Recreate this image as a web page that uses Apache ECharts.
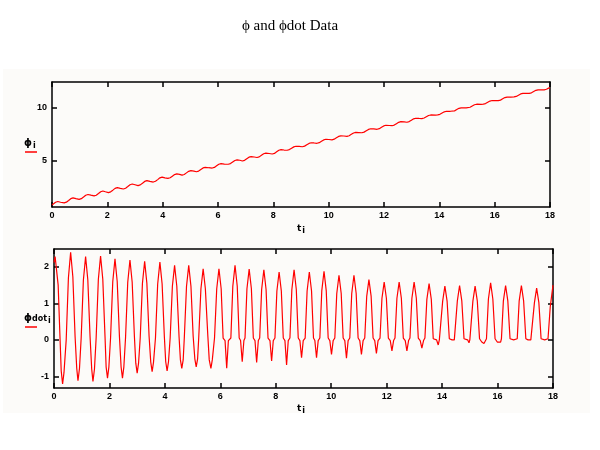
<!DOCTYPE html>
<html><head><meta charset="utf-8">
<script src="https://cdn.jsdelivr.net/npm/echarts@6/dist/echarts.min.js"></script>
<style>html,body{margin:0;padding:0;background:#fff}#c{width:600px;height:450px}</style>
</head><body><div id="c"></div>
<script>
// ---- data ----
const titleText = '\u03d5 and \u03d5dot Data';
const tRange = [0, 18];
const tInterval = 2;
const phiRange = [0.6, 12.47];
const phiTicks = [5, 10];
const phidotRange = [-1.32, 2.49];
const phidotTicks = [-1, 0, 1, 2];

// phi_i versus t_i  [t, phi]
const phi = [
[0,0.80],[0.05,0.88],[0.13,1.05],[0.21,1.12],[0.31,1.05],
[0.44,0.99],[0.52,1.06],[0.60,1.22],[0.68,1.39],[0.76,1.46],[0.865,1.39],
[0.98,1.32],[1.06,1.39],[1.14,1.55],[1.22,1.72],[1.30,1.79],[1.405,1.72],
[1.52,1.65],[1.60,1.72],[1.68,1.88],[1.76,2.05],[1.84,2.12],[1.93,2.05],
[2.04,1.97],[2.12,2.04],[2.20,2.20],[2.28,2.37],[2.36,2.44],[2.47,2.37],
[2.58,2.31],[2.66,2.38],[2.74,2.54],[2.82,2.71],[2.90,2.78],[3.00,2.71],
[3.11,2.63],[3.19,2.70],[3.27,2.86],[3.35,3.03],[3.43,3.10],[3.54,3.03],
[3.66,2.97],[3.74,3.04],[3.82,3.20],[3.90,3.37],[3.98,3.44],[4.08,3.37],
[4.19,3.32],[4.27,3.38],[4.35,3.53],[4.43,3.68],[4.51,3.74],[4.61,3.70],
[4.70,3.63],[4.78,3.69],[4.86,3.84],[4.94,3.99],[5.02,4.05],[5.13,4.01],
[5.22,3.95],[5.30,4.01],[5.38,4.16],[5.46,4.31],[5.54,4.37],[5.66,4.33],
[5.79,4.30],[5.87,4.36],[5.95,4.51],[6.03,4.66],[6.11,4.72],[6.23,4.68],
[6.37,4.66],[6.45,4.72],[6.53,4.87],[6.61,5.02],[6.69,5.08],[6.79,5.04],
[6.88,4.97],[6.96,5.03],[7.04,5.18],[7.12,5.33],[7.20,5.39],[7.31,5.35],
[7.41,5.30],[7.49,5.36],[7.57,5.51],[7.65,5.66],[7.73,5.72],[7.85,5.68],
[7.96,5.63],[8.04,5.69],[8.12,5.84],[8.20,5.99],[8.28,6.05],[8.39,6.01],
[8.50,5.99],[8.58,6.05],[8.66,6.18],[8.74,6.31],[8.82,6.37],[8.93,6.35],
[9.05,6.32],[9.13,6.38],[9.21,6.51],[9.29,6.64],[9.37,6.70],[9.47,6.68],
[9.58,6.65],[9.66,6.71],[9.74,6.84],[9.82,6.97],[9.90,7.03],[10.01,7.01],
[10.12,6.98],[10.20,7.04],[10.28,7.17],[10.36,7.30],[10.44,7.36],[10.55,7.34],
[10.66,7.31],[10.74,7.37],[10.82,7.50],[10.90,7.63],[10.98,7.69],[11.09,7.67],
[11.20,7.65],[11.28,7.71],[11.36,7.84],[11.44,7.97],[11.52,8.03],[11.63,8.01],
[11.75,7.98],[11.83,8.04],[11.91,8.17],[11.99,8.30],[12.07,8.36],[12.19,8.34],
[12.29,8.32],[12.37,8.38],[12.45,8.51],[12.53,8.64],[12.61,8.70],[12.73,8.68],
[12.83,8.65],[12.91,8.71],[12.99,8.84],[13.07,8.97],[13.15,9.03],[13.27,9.01],
[13.37,9.00],[13.45,9.05],[13.53,9.17],[13.61,9.29],[13.69,9.34],[13.86,9.33],
[13.94,9.35],[14.02,9.40],[14.10,9.52],[14.18,9.64],[14.26,9.69],[14.40,9.69],
[14.47,9.68],[14.55,9.73],[14.63,9.85],[14.71,9.97],[14.79,10.02],[14.97,10.01],
[15.03,10.02],[15.11,10.07],[15.19,10.19],[15.27,10.31],[15.35,10.36],[15.51,10.35],
[15.59,10.37],[15.67,10.42],[15.75,10.54],[15.83,10.66],[15.91,10.71],[16.05,10.70],
[16.13,10.70],[16.21,10.75],[16.29,10.87],[16.37,10.99],[16.45,11.04],[16.58,11.04],
[16.70,11.05],[16.78,11.10],[16.86,11.22],[16.94,11.34],[17.02,11.39],[17.15,11.39],
[17.25,11.39],[17.33,11.44],[17.41,11.56],[17.49,11.68],[17.57,11.73],[17.70,11.73],
[17.79,11.73],[17.87,11.78],[17.95,11.89],[18.0,11.94]
];

// phidot_i versus t_i  [t, phidot]
const phidot = [
[0,2.12],[0.04,2.28],[0.09,2.26],[0.15,1.5],[0.21,0.2],[0.26,-0.85],[0.31,-1.21],[0.36,-0.9],[0.44,0],[0.52,1.7],
[0.60,2.40],[0.68,1.73],[0.76,0.1],[0.82,-0.78],[0.865,-1.12],[0.92,-0.78],[0.98,0.05],[1.06,1.64],
[1.14,2.28],[1.22,1.64],[1.30,0.1],[1.36,-0.8],[1.405,-1.14],[1.46,-0.8],[1.52,0.05],[1.60,1.66],
[1.68,2.30],[1.76,1.66],[1.84,0.1],[1.88,-0.74],[1.93,-1.05],[1.98,-0.74],[2.04,0.05],[2.12,1.6],
[2.20,2.22],[2.28,1.6],[2.36,0.1],[2.42,-0.74],[2.47,-1.05],[2.52,-0.74],[2.58,0.05],[2.66,1.58],
[2.74,2.19],[2.82,1.58],[2.90,0.1],[2.95,-0.64],[3.00,-0.91],[3.05,-0.64],[3.11,0.05],[3.19,1.55],
[3.27,2.15],[3.35,1.55],[3.43,0.1],[3.49,-0.61],[3.54,-0.87],[3.59,-0.61],[3.66,0.05],[3.74,1.53],
[3.82,2.13],[3.90,1.53],[3.98,0.1],[4.03,-0.6],[4.08,-0.85],[4.13,-0.6],[4.19,0.05],[4.27,1.47],
[4.35,2.04],[4.43,1.47],[4.51,0.1],[4.56,-0.55],[4.61,-0.78],[4.66,-0.55],[4.70,0.05],[4.78,1.47],
[4.86,2.04],[4.94,1.47],[5.02,0.1],[5.08,-0.52],[5.13,-0.74],[5.18,-0.52],[5.22,0.05],[5.30,1.4],
[5.38,1.95],[5.46,1.4],[5.55,0.1],[5.60,-0.55],[5.66,-0.78],[5.71,-0.55],[5.79,0.05],[5.87,1.4],
[5.95,1.95],[6.03,1.4],[6.10,0.05],[6.17,-0.02],[6.23,-0.78],[6.29,-0.02],[6.38,0.05],[6.45,1.47],
[6.53,2.04],[6.61,1.47],[6.68,0.05],[6.73,-0.02],[6.79,-0.6],[6.85,-0.02],[6.89,0.05],[6.96,1.4],
[7.04,1.94],[7.12,1.4],[7.19,0.05],[7.25,-0.02],[7.31,-0.62],[7.37,-0.02],[7.42,0.05],[7.49,1.38],
[7.57,1.92],[7.65,1.38],[7.72,0.05],[7.79,-0.02],[7.85,-0.58],[7.91,-0.02],[7.97,0.05],[8.04,1.34],
[8.12,1.86],[8.20,1.34],[8.27,0.05],[8.33,-0.02],[8.39,-0.69],[8.45,-0.02],[8.51,0.05],[8.58,1.38],
[8.66,1.92],[8.74,1.38],[8.81,0.05],[8.87,-0.02],[8.93,-0.49],[8.99,-0.02],[9.06,0.05],[9.13,1.34],
[9.21,1.86],[9.29,1.34],[9.36,0.05],[9.41,-0.02],[9.47,-0.49],[9.53,-0.02],[9.59,0.05],[9.66,1.35],
[9.74,1.88],[9.82,1.35],[9.89,0.05],[9.95,-0.02],[10.01,-0.4],[10.07,-0.02],[10.13,0.05],[10.20,1.27],
[10.28,1.77],[10.36,1.27],[10.43,0.05],[10.49,-0.02],[10.55,-0.5],[10.61,-0.02],[10.67,0.05],[10.74,1.27],
[10.82,1.77],[10.90,1.27],[10.97,0.05],[11.03,-0.02],[11.09,-0.4],[11.15,-0.02],[11.21,0.05],[11.28,1.19],
[11.36,1.65],[11.44,1.19],[11.51,0.05],[11.57,-0.02],[11.63,-0.37],[11.69,-0.02],[11.76,0.05],[11.83,1.14],
[11.91,1.58],[11.99,1.14],[12.06,0.05],[12.13,-0.02],[12.19,-0.3],[12.25,-0.02],[12.30,0.05],[12.37,1.14],
[12.45,1.58],[12.53,1.14],[12.60,0.05],[12.67,-0.02],[12.73,-0.3],[12.79,-0.02],[12.84,0.05],[12.91,1.14],
[12.99,1.58],[13.07,1.14],[13.14,0.05],[13.21,-0.02],[13.27,-0.23],[13.33,-0.02],[13.38,0.05],[13.45,1.11],
[13.53,1.54],[13.61,1.11],[13.68,0.03],[13.80,0],[13.86,-0.14],[13.90,0],[13.95,0.03],[14.02,1.06],
[14.10,1.47],[14.18,1.06],[14.26,0.03],[14.36,0],[14.40,0],[14.44,0],[14.48,0.03],[14.55,1.07],
[14.63,1.49],[14.71,1.07],[14.79,0.03],[14.92,0],[14.97,-0.08],[15.00,0],[15.04,0.03],[15.11,1.06],
[15.19,1.47],[15.27,1.06],[15.35,0.03],[15.43,-0.06],[15.51,-0.1],[15.57,-0.06],[15.60,0.03],[15.67,1.12],
[15.75,1.56],[15.83,1.12],[15.91,0.03],[15.99,-0.06],[16.05,-0.1],[16.11,-0.06],[16.14,0.03],[16.21,1.07],
[16.29,1.49],[16.37,1.07],[16.45,0.03],[16.52,0],[16.58,0],[16.64,0],[16.71,0.03],[16.78,1.07],
[16.86,1.49],[16.94,1.07],[17.02,0.03],[17.10,0],[17.15,0],[17.20,0],[17.26,0.03],[17.33,1.02],
[17.41,1.42],[17.49,1.02],[17.57,0.03],[17.64,0],[17.70,0],[17.76,0],[17.82,0.03],[17.90,0.9],[18.0,1.5]
];

// ---- chart ----
const chart = echarts.init(document.getElementById('c'), null, {renderer: 'canvas'});
const black = '#000';
const lineW = 1.5;
const labelFont = {color: black, fontSize: 9, fontWeight: 'bold', fontFamily: 'Liberation Sans, Arial, sans-serif'};

function xAx(grid, pos, showLabel) {
  return {
    type: 'value', gridIndex: grid, position: pos, min: tRange[0], max: tRange[1], interval: tInterval,
    axisLine: {show: true, onZero: false, lineStyle: {color: black, width: lineW}},
    axisTick: {show: true, inside: true, length: 5, lineStyle: {color: black, width: lineW}},
    axisLabel: Object.assign({show: showLabel, margin: 4}, labelFont),
    splitLine: {show: false}
  };
}
function yAx(grid, pos, range, ticks, showLabel) {
  return {
    type: 'value', gridIndex: grid, position: pos, min: range[0], max: range[1],
    axisLine: {show: true, onZero: false, lineStyle: {color: black, width: lineW}},
    axisTick: {show: true, inside: true, length: 5, customValues: ticks, lineStyle: {color: black, width: lineW}},
    axisLabel: Object.assign({show: showLabel, margin: 5, customValues: ticks}, labelFont),
    splitLine: {show: false}
  };
}

const richLab = {
  a: {fontSize: 10, fontWeight: 'bold', fontFamily: 'DejaVu Sans, sans-serif', color: black},
  b: {fontSize: 8, fontWeight: 'bold', fontFamily: 'DejaVu Sans, sans-serif', color: black, padding: [5, 0, 0, 1]}
};

chart.setOption({
  animation: false,
  backgroundColor: '#ffffff',
  grid: [
    {left: 52, top: 82, right: 50, height: 125, containLabel: false},
    {left: 54, top: 249, right: 47, height: 139, containLabel: false}
  ],
  xAxis: [xAx(0, 'bottom', true), xAx(0, 'top', false), xAx(1, 'bottom', true), xAx(1, 'top', false)],
  yAxis: [
    yAx(0, 'left', phiRange, phiTicks, true), yAx(0, 'right', phiRange, phiTicks, false),
    yAx(1, 'left', phidotRange, phidotTicks, true), yAx(1, 'right', phidotRange, phidotTicks, false)
  ],
  series: [
    {type: 'line', name: 'phi', xAxisIndex: 0, yAxisIndex: 0, data: phi, showSymbol: false, symbol: 'none',
     lineStyle: {color: '#ff0000', width: 1.2}, itemStyle: {color: '#ff0000'}, z: 5},
    {type: 'line', name: 'phidot', xAxisIndex: 2, yAxisIndex: 2, data: phidot, showSymbol: false, symbol: 'none',
     lineStyle: {color: '#ff0000', width: 1.2}, itemStyle: {color: '#ff0000'}, z: 5}
  ],
  graphic: [
    {type: 'rect', z: -100, silent: true, shape: {x: 3, y: 69, width: 587, height: 344}, style: {fill: '#fcfbf9'}},
    {type: 'text', x: 290, y: 26, silent: true,
     style: {text: titleText, fill: black, font: '15px "Liberation Serif", "DejaVu Serif", serif', textAlign: 'center', textVerticalAlign: 'middle'}},
    {type: 'text', x: 24, y: 137, silent: true,
     style: {text: '{a|\u03d5}{b|i}', rich: richLab, fill: black}},
    {type: 'line', silent: true, shape: {x1: 25, y1: 152, x2: 37, y2: 152}, style: {stroke: '#ff0000', lineWidth: 1.5}},
    {type: 'text', x: 24, y: 312, silent: true,
     style: {text: '{a|\u03d5}{c|dot}{b|i}', rich: Object.assign({c: {fontSize: 8, fontWeight: 'bold', fontFamily: 'DejaVu Sans, sans-serif', color: black}}, richLab), fill: black}},
    {type: 'line', silent: true, shape: {x1: 25, y1: 327, x2: 37, y2: 327}, style: {stroke: '#ff0000', lineWidth: 1.5}},
    {type: 'text', x: 297, y: 222, silent: true,
     style: {text: '{a|t}{b|i}', rich: {a: {fontSize: 9, fontWeight: 'bold', fontFamily: 'DejaVu Sans, sans-serif', color: black}, b: richLab.b}, fill: black}},
    {type: 'text', x: 297, y: 402, silent: true,
     style: {text: '{a|t}{b|i}', rich: {a: {fontSize: 9, fontWeight: 'bold', fontFamily: 'DejaVu Sans, sans-serif', color: black}, b: richLab.b}, fill: black}}
  ]
});
</script>
</body></html>
